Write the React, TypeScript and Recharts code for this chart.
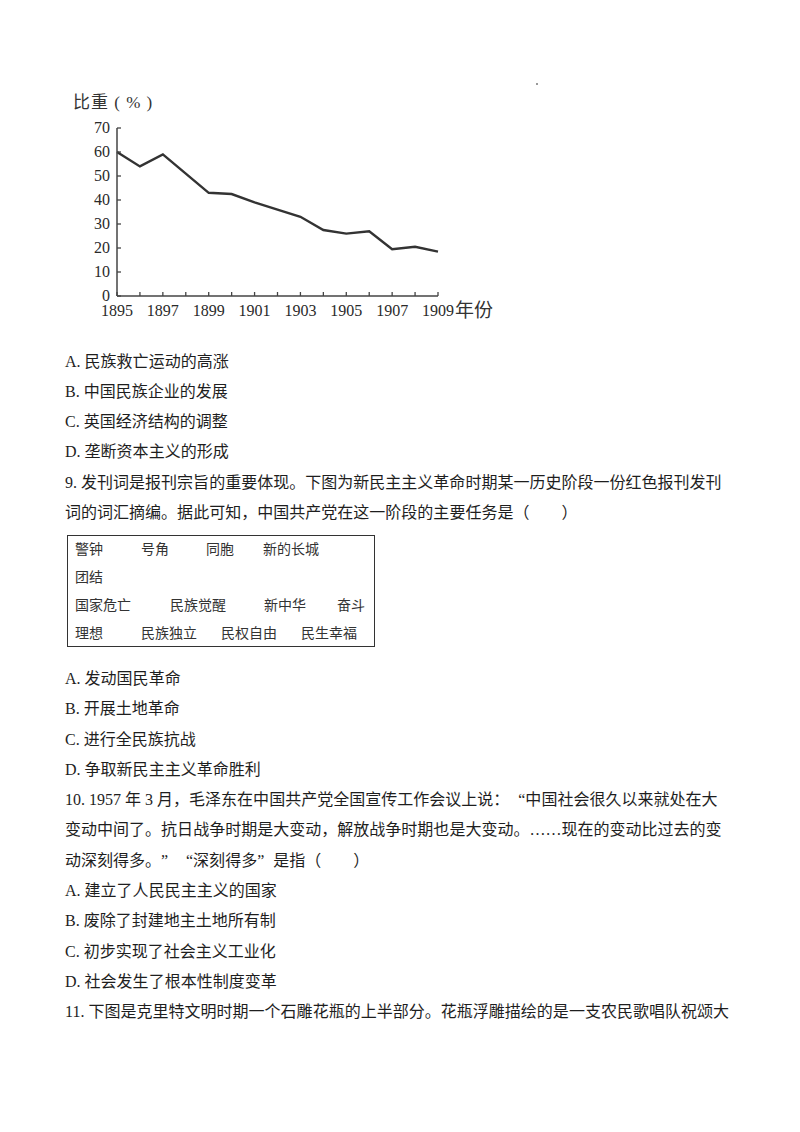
import React from 'react';
import { LineChart, Line, XAxis, YAxis } from 'recharts';

// share (%) by year
const years = [1895, 1896, 1897, 1898, 1899, 1900, 1901, 1902, 1903, 1904, 1905, 1906, 1907, 1908, 1909];
const shares = [60, 54, 59, 51, 43, 42.5, 39, 36, 33, 27.5, 26, 27, 19.5, 20.5, 18.5];
const labeledYears = [1895, 1897, 1899, 1901, 1903, 1905, 1907, 1909];
const yTicks = [0, 10, 20, 30, 40, 50, 60, 70];

const chartData = years.map((year, i) => ({ year, share: shares[i] }));

const serif = '"Liberation Serif", "Noto Sans CJK SC", serif';
const axisColor = '#444';

// question text below the chart: [text, centre y]
const lines: [string, number][] = [
  ['A. 民族救亡运动的高涨', 362],
  ['B. 中国民族企业的发展', 392],
  ['C. 英国经济结构的调整', 422],
  ['D. 垄断资本主义的形成', 452],
  ['9. 发刊词是报刊宗旨的重要体现。下图为新民主主义革命时期某一历史阶段一份红色报刊发刊', 483],
  ['词的词汇摘编。据此可知，中国共产党在这一阶段的主要任务是（　　）', 513],
  ['A. 发动国民革命', 679],
  ['B. 开展土地革命', 709],
  ['C. 进行全民族抗战', 740],
  ['D. 争取新民主主义革命胜利', 770],
  ['10. 1957 年 3 月，毛泽东在中国共产党全国宣传工作会议上说：“中国社会很久以来就处在大', 800],
  ['变动中间了。抗日战争时期是大变动，解放战争时期也是大变动。……现在的变动比过去的变', 830],
  ['动深刻得多。”“深刻得多”是指（　　）', 861],
  ['A. 建立了人民民主主义的国家', 891],
  ['B. 废除了封建地主土地所有制', 921],
  ['C. 初步实现了社会主义工业化', 952],
  ['D. 社会发生了根本性制度变革', 982],
  ['11. 下图是克里特文明时期一个石雕花瓶的上半部分。花瓶浮雕描绘的是一支农民歌唱队祝颂大', 1012],
];

// words in the boxed excerpt: [word, x, centre y]
const boxWords: [string, number, number][] = [
  ['警钟', 75, 550], ['号角', 141, 550], ['同胞', 206, 550], ['新的长城', 263, 550],
  ['团结', 75, 578],
  ['国家危亡', 75, 606], ['民族觉醒', 170, 606], ['新中华', 264, 606], ['奋斗', 337, 606],
  ['理想', 75, 634], ['民族独立', 141, 634], ['民权自由', 221, 634], ['民生幸福', 301, 634],
];

// Chinese quotes and ellipsis take a full em in the scan
const fullWidth = (text: string) =>
  Array.from(text).map((ch, i) => {
    if (ch === '“' || ch === '”' || ch === '…') {
      const align = ch === '“' ? 'right' : ch === '”' ? 'left' : 'center';
      return (
        <span key={i} style={{ display: 'inline-block', width: 16, textAlign: align as any }}>
          {ch}
        </span>
      );
    }
    return ch;
  });

const XTick = (props: any) => {
  const { x, y, payload } = props;
  const show = labeledYears.includes(payload.value);
  return (
    <g>
      <line x1={x} x2={x} y1={y} y2={y - 4} stroke={axisColor} strokeWidth={1.3} />
      {show && (
        <text x={x} y={y + 20} textAnchor="middle" fontSize={16} fontFamily={serif} fill="#2a2a2a">
          {payload.value}
        </text>
      )}
    </g>
  );
};

const YTick = (props: any) => {
  const { x, y, payload } = props;
  return (
    <g>
      <line x1={x} x2={x + 4} y1={y} y2={y} stroke={axisColor} strokeWidth={1.3} />
      <text x={x - 7} y={y + 5} textAnchor="end" fontSize={16} fontFamily={serif} fill="#2a2a2a">
        {payload.value}
      </text>
    </g>
  );
};

const App = () => {
  return (
    <div style={{ position: 'absolute', left: 0, top: 0, width: 800, height: 1132, background: '#fff', fontFamily: serif, color: '#1e1e1e' }}>
      <div style={{ position: 'absolute', left: 0, top: 0 }}>
        <LineChart width={520} height={340} data={chartData} margin={{ top: 128, right: 82, bottom: 14, left: 57 }}>
          <XAxis
            dataKey="year"
            type="number"
            domain={[1895, 1909]}
            ticks={years}
            interval={0}
            height={30}
            tickSize={0}
            tickMargin={0}
            tickLine={false}
            tick={XTick}
            stroke={axisColor}
            strokeWidth={1.5}
          />
          <YAxis
            type="number"
            domain={[0, 70]}
            ticks={yTicks}
            interval={0}
            width={60}
            tickSize={0}
            tickMargin={0}
            tickLine={false}
            tick={YTick}
            stroke={axisColor}
            strokeWidth={1.5}
          />
          <Line
            type="linear"
            dataKey="share"
            stroke="#333"
            strokeWidth={2.4}
            dot={false}
            isAnimationActive={false}
          />
        </LineChart>
      </div>

      <div style={{ position: 'absolute', left: 73, top: 91, fontSize: 17, lineHeight: '24px', fontFamily: serif, color: '#333', letterSpacing: 1, whiteSpace: 'nowrap' }}>
        比重 ( % )
      </div>
      <div style={{ position: 'absolute', left: 455, top: 299, fontSize: 19, lineHeight: '24px', fontFamily: serif, color: '#333', whiteSpace: 'nowrap' }}>
        年份
      </div>
      <div style={{ position: 'absolute', left: 536, top: 83, width: 2, height: 2, background: '#999' }} />

      {lines.map(([text, cy]) => (
        <div
          key={cy}
          style={{ position: 'absolute', left: 65, top: cy - 15, height: 30, lineHeight: '30px', fontSize: 16, whiteSpace: 'nowrap' }}
        >
          {fullWidth(text)}
        </div>
      ))}

      <div style={{ position: 'absolute', left: 67, top: 535, width: 306, height: 110, border: '1.5px solid #333' }} />
      {boxWords.map(([word, x, cy]) => (
        <div
          key={word}
          style={{ position: 'absolute', left: x, top: cy - 12, height: 24, lineHeight: '24px', fontSize: 14, color: '#333', whiteSpace: 'nowrap' }}
        >
          {word}
        </div>
      ))}
    </div>
  );
};

export default App;
